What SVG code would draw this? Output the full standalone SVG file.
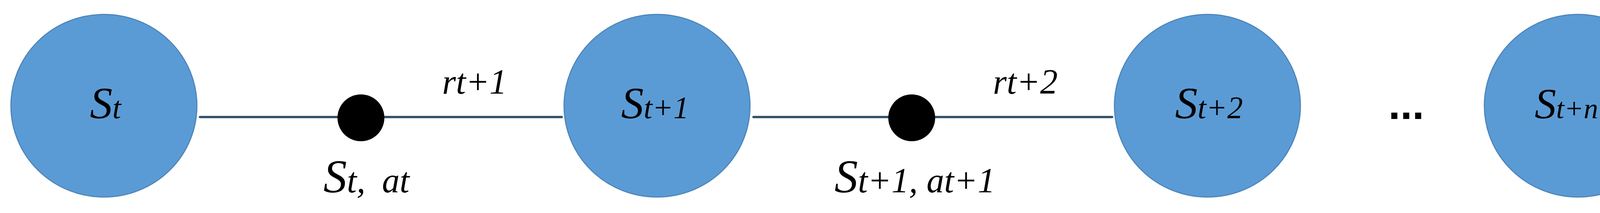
<svg xmlns="http://www.w3.org/2000/svg" width="4319" height="546" viewBox="0 0 4319 546">
<style>
.state{fill:#5B9BD5;stroke:#4E86BA;stroke-width:3}
.dot{fill:#000}
.conn{stroke:#34546E;stroke-width:6;stroke-linecap:round;fill:none}
.lbl{font-family:"Liberation Serif","Times New Roman",serif;font-style:italic;fill:#000;text-anchor:middle}
.big{font-size:115px}
.sm{font-size:80px}
.big2{font-size:120px}
.sm2{font-size:90px}
</style>
<rect width="4319" height="546" fill="#fff"/>
<g id="connectors">
<line class="conn" x1="512" y1="300" x2="1438" y2="300"/>
<line class="conn" x1="1929" y1="300" x2="2847" y2="300"/>
</g>
<g id="node-st">
<ellipse class="state" cx="266" cy="271" rx="238" ry="234"/>
<text class="lbl big" x="270" y="303">S<tspan class="sm">t</tspan></text>
</g>
<g id="action-1">
<circle class="dot" cx="924" cy="302" r="60"/>
<text class="lbl big2" x="938" y="493" word-spacing="20">S<tspan class="sm2">t, at</tspan></text>
</g>
<g id="reward-1">
<text class="lbl sm2" x="1215" y="240">rt+1</text>
</g>
<g id="node-st1">
<ellipse class="state" cx="1682" cy="271" rx="238" ry="234"/>
<text class="lbl big" x="1677" y="303">S<tspan class="sm">t+1</tspan></text>
</g>
<g id="action-2">
<circle class="dot" cx="2334" cy="302" r="60"/>
<text class="lbl big2" x="2342" y="493">S<tspan class="sm2">t+1, at+1</tspan></text>
</g>
<g id="reward-2">
<text class="lbl sm2" x="2625" y="240">rt+2</text>
</g>
<g id="node-st2">
<ellipse class="state" cx="3091" cy="271" rx="238" ry="234"/>
<text class="lbl big" x="3095" y="303">S<tspan class="sm">t+2</tspan></text>
</g>
<g id="ellipsis">
<text x="3600" y="305" font-family="'Liberation Sans',Arial,sans-serif" font-weight="bold" font-size="110" text-anchor="middle" fill="#000">...</text>
</g>
<g id="node-stn">
<ellipse class="state" cx="4040" cy="271" rx="240" ry="234"/>
<text class="lbl" font-size="110" x="4010" y="303">S<tspan font-size="74">t+n</tspan></text>
</g>
</svg>
